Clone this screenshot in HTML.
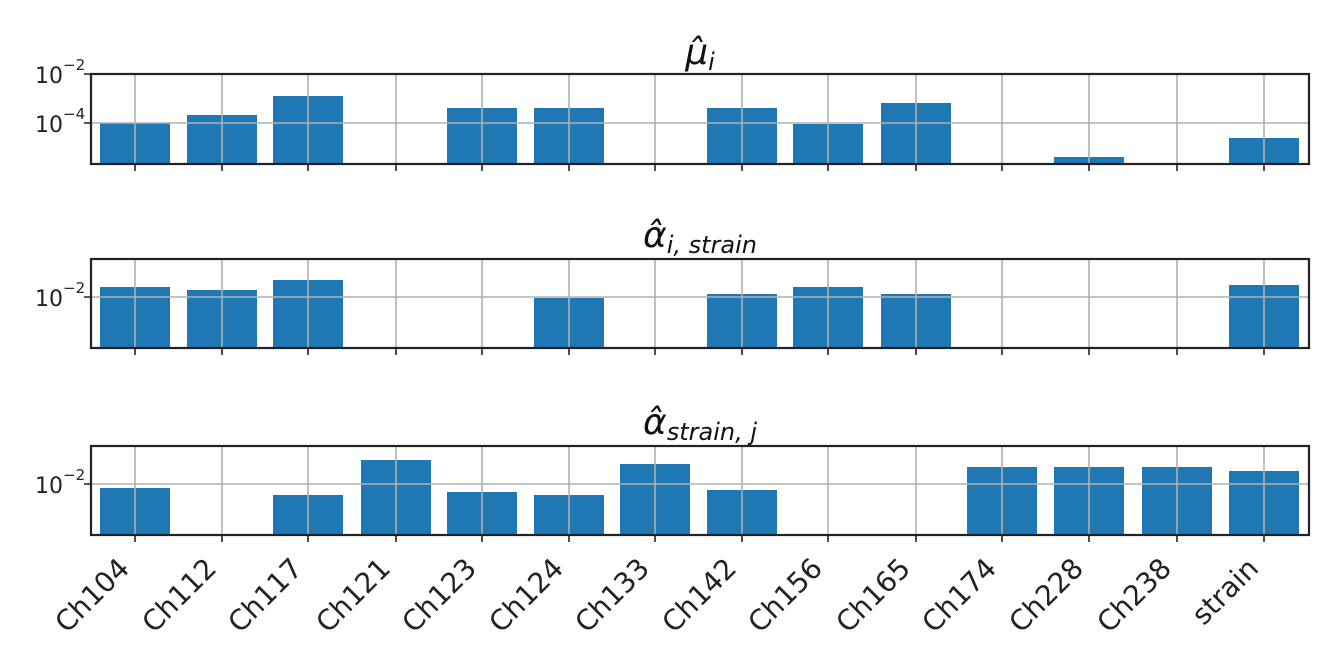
<!DOCTYPE html>
<html><head><meta charset="utf-8"><style>body{margin:0;background:#fff}svg{display:block}</style></head><body>
<svg width="1324" height="654" xmlns="http://www.w3.org/2000/svg" font-family="DejaVu Sans, Liberation Sans, sans-serif">
<g fill="#1f77b4">
<rect x="100" y="123" width="70" height="41"/>
<rect x="187" y="115" width="70" height="49"/>
<rect x="273" y="96" width="70" height="68"/>
<rect x="447" y="108" width="70" height="56"/>
<rect x="534" y="108" width="70" height="56"/>
<rect x="707" y="108" width="70" height="56"/>
<rect x="793" y="124" width="70" height="40"/>
<rect x="881" y="103" width="70" height="61"/>
<rect x="1054" y="157" width="70" height="7"/>
<rect x="1229" y="138" width="70" height="26"/>
<rect x="100" y="287" width="70" height="61"/>
<rect x="187" y="290" width="70" height="58"/>
<rect x="273" y="280" width="70" height="68"/>
<rect x="534" y="298" width="70" height="50"/>
<rect x="707" y="294" width="70" height="54"/>
<rect x="793" y="287" width="70" height="61"/>
<rect x="881" y="294" width="70" height="54"/>
<rect x="1229" y="285" width="70" height="63"/>
<rect x="100" y="488" width="70" height="47"/>
<rect x="273" y="495" width="70" height="40"/>
<rect x="361" y="460" width="70" height="75"/>
<rect x="447" y="492" width="70" height="43"/>
<rect x="534" y="495" width="70" height="40"/>
<rect x="620" y="464" width="70" height="71"/>
<rect x="707" y="490" width="70" height="45"/>
<rect x="967" y="467" width="70" height="68"/>
<rect x="1054" y="467" width="70" height="68"/>
<rect x="1142" y="467" width="70" height="68"/>
<rect x="1229" y="471" width="70" height="64"/>
</g>
<g stroke="#b0b0b0" stroke-width="1.6">
<path d="M135 74V164M222 74V164M308 74V164M396 74V164M482 74V164M569 74V164M655 74V164M742 74V164M828 74V164M916 74V164M1002 74V164M1089 74V164M1177 74V164M1264 74V164"/>
<path d="M135 259V348M222 259V348M308 259V348M396 259V348M482 259V348M569 259V348M655 259V348M742 259V348M828 259V348M916 259V348M1002 259V348M1089 259V348M1177 259V348M1264 259V348"/>
<path d="M135 446V535M222 446V535M308 446V535M396 446V535M482 446V535M569 446V535M655 446V535M742 446V535M828 446V535M916 446V535M1002 446V535M1089 446V535M1177 446V535M1264 446V535"/>
<path d="M91 123H1309M91 297H1309M91 484H1309"/>
</g>
<g stroke="#222" stroke-width="1.6">
<path d="M135 164v7M222 164v7M308 164v7M396 164v7M482 164v7M569 164v7M655 164v7M742 164v7M828 164v7M916 164v7M1002 164v7M1089 164v7M1177 164v7M1264 164v7"/>
<path d="M135 348v7M222 348v7M308 348v7M396 348v7M482 348v7M569 348v7M655 348v7M742 348v7M828 348v7M916 348v7M1002 348v7M1089 348v7M1177 348v7M1264 348v7"/>
<path d="M135 535v7M222 535v7M308 535v7M396 535v7M482 535v7M569 535v7M655 535v7M742 535v7M828 535v7M916 535v7M1002 535v7M1089 535v7M1177 535v7M1264 535v7"/>
<path d="M84 74h7M84 123h7M84 297h7M84 484h7"/>
</g>
<g fill="none" stroke="#222" stroke-width="2.2">
<rect x="91" y="74" width="1218" height="90"/>
<rect x="91" y="259" width="1218" height="89"/>
<rect x="91" y="446" width="1218" height="89"/>
</g>
<g fill="#222">
<text x="63" y="83" font-size="22" text-anchor="end">10</text><text x="63" y="70" font-size="15">−2</text>
<text x="63" y="132" font-size="22" text-anchor="end">10</text><text x="63" y="119" font-size="15">−4</text>
<text x="63" y="306" font-size="22" text-anchor="end">10</text><text x="63" y="293" font-size="15">−2</text>
<text x="63" y="493" font-size="22" text-anchor="end">10</text><text x="63" y="480" font-size="15">−2</text>
</g>
<g fill="#222" font-size="28" text-anchor="end">
<text transform="translate(131,570) rotate(-45)">Ch104</text>
<text transform="translate(218,570) rotate(-45)">Ch112</text>
<text transform="translate(304,570) rotate(-45)">Ch117</text>
<text transform="translate(392,570) rotate(-45)">Ch121</text>
<text transform="translate(478,570) rotate(-45)">Ch123</text>
<text transform="translate(565,570) rotate(-45)">Ch124</text>
<text transform="translate(651,570) rotate(-45)">Ch133</text>
<text transform="translate(738,570) rotate(-45)">Ch142</text>
<text transform="translate(824,570) rotate(-45)">Ch156</text>
<text transform="translate(912,570) rotate(-45)">Ch165</text>
<text transform="translate(998,570) rotate(-45)">Ch174</text>
<text transform="translate(1085,570) rotate(-45)">Ch228</text>
<text transform="translate(1173,570) rotate(-45)">Ch238</text>
<text transform="translate(1260,570) rotate(-45)">strain</text>
</g>
<g fill="#111" font-style="italic" text-anchor="middle">
<text x="700" y="64" font-size="36">μ̂<tspan font-size="24" dy="6">i</tspan></text>
<text x="700" y="247" font-size="36">α̂<tspan font-size="24" dy="6">i, strain</tspan></text>
<text x="700" y="434" font-size="36">α̂<tspan font-size="24" dy="6">strain, j</tspan></text>
</g>
</svg>
</body></html>
